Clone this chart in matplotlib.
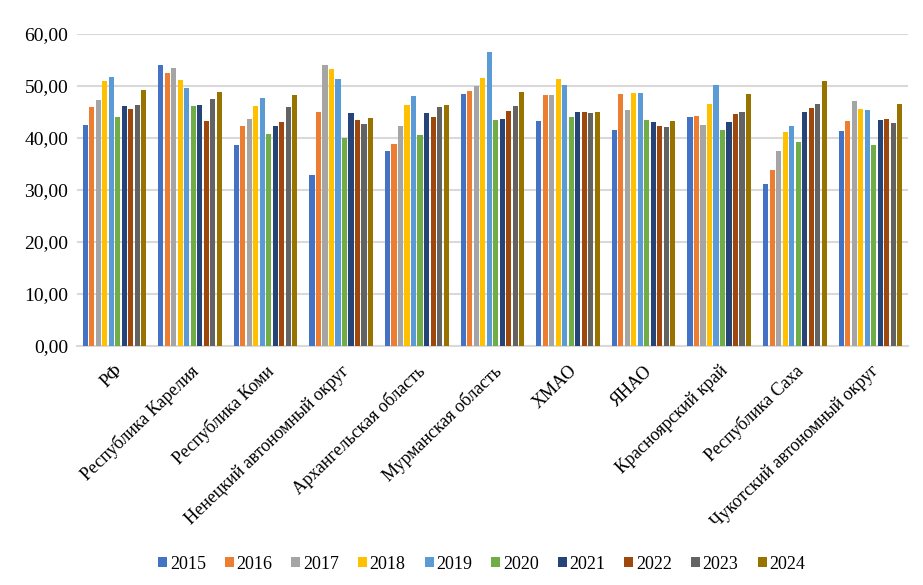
import matplotlib.pyplot as plt
import numpy as np

# Regions and yearly values
regions = ['РФ', 'Республика Карелия', 'Республика Коми', 'Ненецкий автономный округ',
           'Архангельская область', 'Мурманская область', 'ХМАО', 'ЯНАО',
           'Красноярский край', 'Республика Саха', 'Чукотский автономный округ']
years = ['2015', '2016', '2017', '2018', '2019', '2020', '2021', '2022', '2023', '2024']

v2015 = [42.4, 54.0, 38.7, 32.8, 37.4, 48.4, 43.2, 41.6, 44.1, 31.2, 41.4]
v2016 = [45.9, 52.4, 42.2, 44.9, 38.9, 49.1, 48.2, 48.4, 44.3, 33.9, 43.2]
v2017 = [47.2, 53.4, 43.7, 54.1, 42.2, 49.9, 48.2, 45.3, 42.4, 37.4, 47.0]
v2018 = [50.9, 51.1, 46.1, 53.2, 46.4, 51.6, 51.3, 48.7, 46.6, 41.2, 45.5]
v2019 = [51.8, 49.5, 47.6, 51.3, 48.0, 56.6, 50.1, 48.6, 50.1, 42.2, 45.3]
v2020 = [44.1, 46.2, 40.8, 39.9, 40.5, 43.4, 44.1, 43.4, 41.6, 39.3, 38.7]
v2021 = [46.1, 46.4, 42.2, 44.7, 44.7, 43.7, 44.9, 43.0, 43.0, 44.9, 43.4]
v2022 = [45.5, 43.2, 43.0, 43.4, 44.1, 45.1, 44.9, 42.2, 44.5, 45.7, 43.7]
v2023 = [46.4, 47.4, 45.9, 42.6, 45.9, 46.1, 44.7, 42.0, 44.9, 46.6, 42.8]
v2024 = [49.3, 48.9, 48.2, 43.9, 46.4, 48.9, 44.9, 43.2, 48.4, 50.9, 46.6]

series = [v2015, v2016, v2017, v2018, v2019, v2020, v2021, v2022, v2023, v2024]
colors = ['#4472C4', '#ED7D31', '#A5A5A5', '#FFC000', '#5B9BD5',
          '#70AD47', '#264478', '#9E480E', '#636363', '#997300']

plt.rcParams['font.family'] = ['Liberation Serif', 'DejaVu Serif']

fig = plt.figure(figsize=(9.23, 5.85), dpi=100)
ax = fig.add_axes([0.083, 0.409, 0.901, 0.533])

x = np.arange(len(regions))
pitch = 0.086
width = 0.068
for i, (vals, col, yr) in enumerate(zip(series, colors, years)):
    offset = (i - 4.5) * pitch
    ax.bar(x + offset, vals, width=width, color=col, label=yr, zorder=3)

ax.set_xlim(-0.5, len(regions) - 0.5)
ax.set_ylim(0, 60)
ax.set_yticks(np.arange(0, 61, 10))
ax.set_yticklabels([f'{t:.2f}'.replace('.', ',') for t in np.arange(0, 61, 10)], fontsize=14)
ax.set_xticks(x)
ax.set_xticklabels(regions, rotation=44, ha='right', rotation_mode='anchor', fontsize=13)
ax.tick_params(axis='y', length=0, pad=6)
ax.tick_params(axis='x', length=0, pad=12)

ax.grid(axis='y', color='#d9d9d9', linewidth=1.5, zorder=0)
for s in ['top', 'right', 'left']:
    ax.spines[s].set_visible(False)
ax.spines['bottom'].set_color('#d9d9d9')
ax.spines['bottom'].set_linewidth(1.5)

ax.legend(loc='lower center', bbox_to_anchor=(0.487, -0.78), ncol=10, frameon=False,
          fontsize=13, handlelength=0.5, handleheight=0.5, handletextpad=0.15,
          columnspacing=1.05)

fig.savefig('out.png', dpi=100)
